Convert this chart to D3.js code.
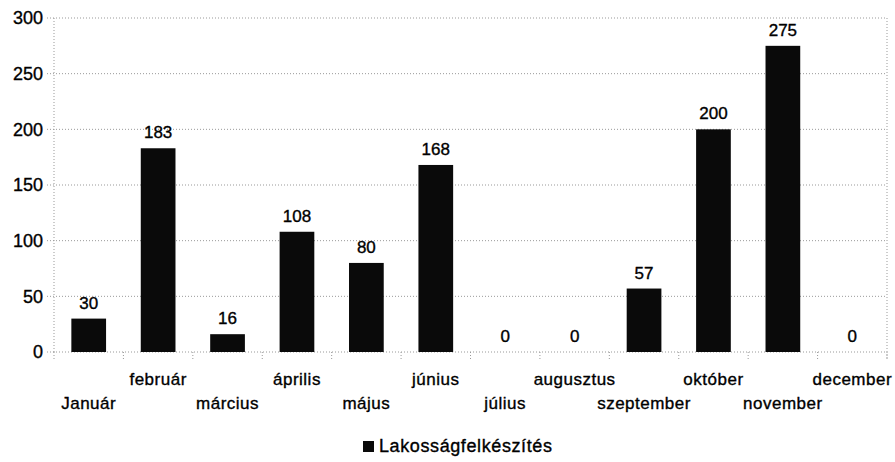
<!DOCTYPE html>
<html>
<head>
<meta charset="utf-8">
<script src="https://cdn.jsdelivr.net/npm/d3@7"></script>
<style>
  html, body { margin: 0; padding: 0; background: #fff; }
  svg { display: block; font-family: "Liberation Sans", Arial, sans-serif; }
  svg text { stroke: #000; stroke-width: 0.35px; }
</style>
</head>
<body>
<svg id="chart" width="895" height="462"></svg>
<script>
const categories = ["Január", "február", "március", "április", "május", "június",
  "július", "augusztus", "szeptember", "október", "november", "december"];
const values = [30, 183, 16, 108, 80, 168, 0, 0, 57, 200, 275, 0];
const yTicks = [0, 50, 100, 150, 200, 250, 300];
const seriesName = "Lakosságfelkészítés";

(function () {
const svg = d3.select("#chart");
const mLeft = 54, mRight = 887, mTop = 18, mBottom = 352;

const x = d3.scaleBand().domain(categories).range([mLeft, mRight]).paddingInner(0.5).paddingOuter(0.25);
const xb = d3.scaleBand().domain(categories).range([mLeft, mRight]);
const y = d3.scaleLinear().domain([0, 300]).range([mBottom, mTop]);

// gridlines
svg.append("g").selectAll("line").data(yTicks).join("line")
  .attr("x1", mLeft - 7).attr("x2", mRight)
  .attr("y1", d => y(d)).attr("y2", d => y(d))
  .attr("stroke", "#999").attr("stroke-width", 1).attr("stroke-dasharray", "1,2");

// y axis line and right border
svg.append("line").attr("x1", mLeft).attr("x2", mLeft).attr("y1", mTop).attr("y2", mBottom)
  .attr("stroke", "#999").attr("stroke-dasharray", "1,2");
svg.append("line").attr("x1", mRight).attr("x2", mRight).attr("y1", mTop).attr("y2", mBottom + 7)
  .attr("stroke", "#999").attr("stroke-dasharray", "1,2");

// x ticks at band boundaries
const bounds = categories.map(c => xb(c)).concat([mRight]);
svg.append("g").selectAll("line").data(bounds).join("line")
  .attr("x1", d => d).attr("x2", d => d).attr("y1", mBottom).attr("y2", mBottom + 7)
  .attr("stroke", "#999").attr("stroke-dasharray", "1,2");

// y tick labels
svg.append("g").selectAll("text").data(yTicks).join("text")
  .attr("x", 43).attr("y", d => y(d)).attr("dy", "0.35em")
  .attr("text-anchor", "end").attr("font-size", 18).attr("fill", "#000")
  .text(d => d);

// bars
svg.append("g").selectAll("rect").data(values).join("rect")
  .attr("x", (d, i) => x(categories[i]))
  .attr("width", x.bandwidth())
  .attr("y", d => y(d))
  .attr("height", d => mBottom - y(d))
  .attr("fill", "#0a0a0a");

// data labels
svg.append("g").selectAll("text").data(values).join("text")
  .attr("x", (d, i) => x(categories[i]) + x.bandwidth() / 2)
  .attr("y", d => y(d) - 10)
  .attr("text-anchor", "middle").attr("font-size", 17).attr("fill", "#000")
  .text(d => d);

// category labels (staggered)
svg.append("g").selectAll("text").data(categories).join("text")
  .attr("x", d => xb(d) + xb.bandwidth() / 2)
  .attr("y", (d, i) => i % 2 === 0 ? mBottom + 57 : mBottom + 33)
  .attr("text-anchor", "middle").attr("font-size", 17).attr("letter-spacing", "0.5px").attr("fill", "#000")
  .text(d => d);

// legend
const lg = svg.append("g");
lg.append("rect").attr("x", 363).attr("y", 441).attr("width", 11).attr("height", 11).attr("fill", "#0a0a0a");
lg.append("text").attr("x", 379).attr("y", 452).attr("font-size", 18).attr("letter-spacing", "0.6px")
  .attr("fill", "#000").text(seriesName);
})();
</script>
</body>
</html>
